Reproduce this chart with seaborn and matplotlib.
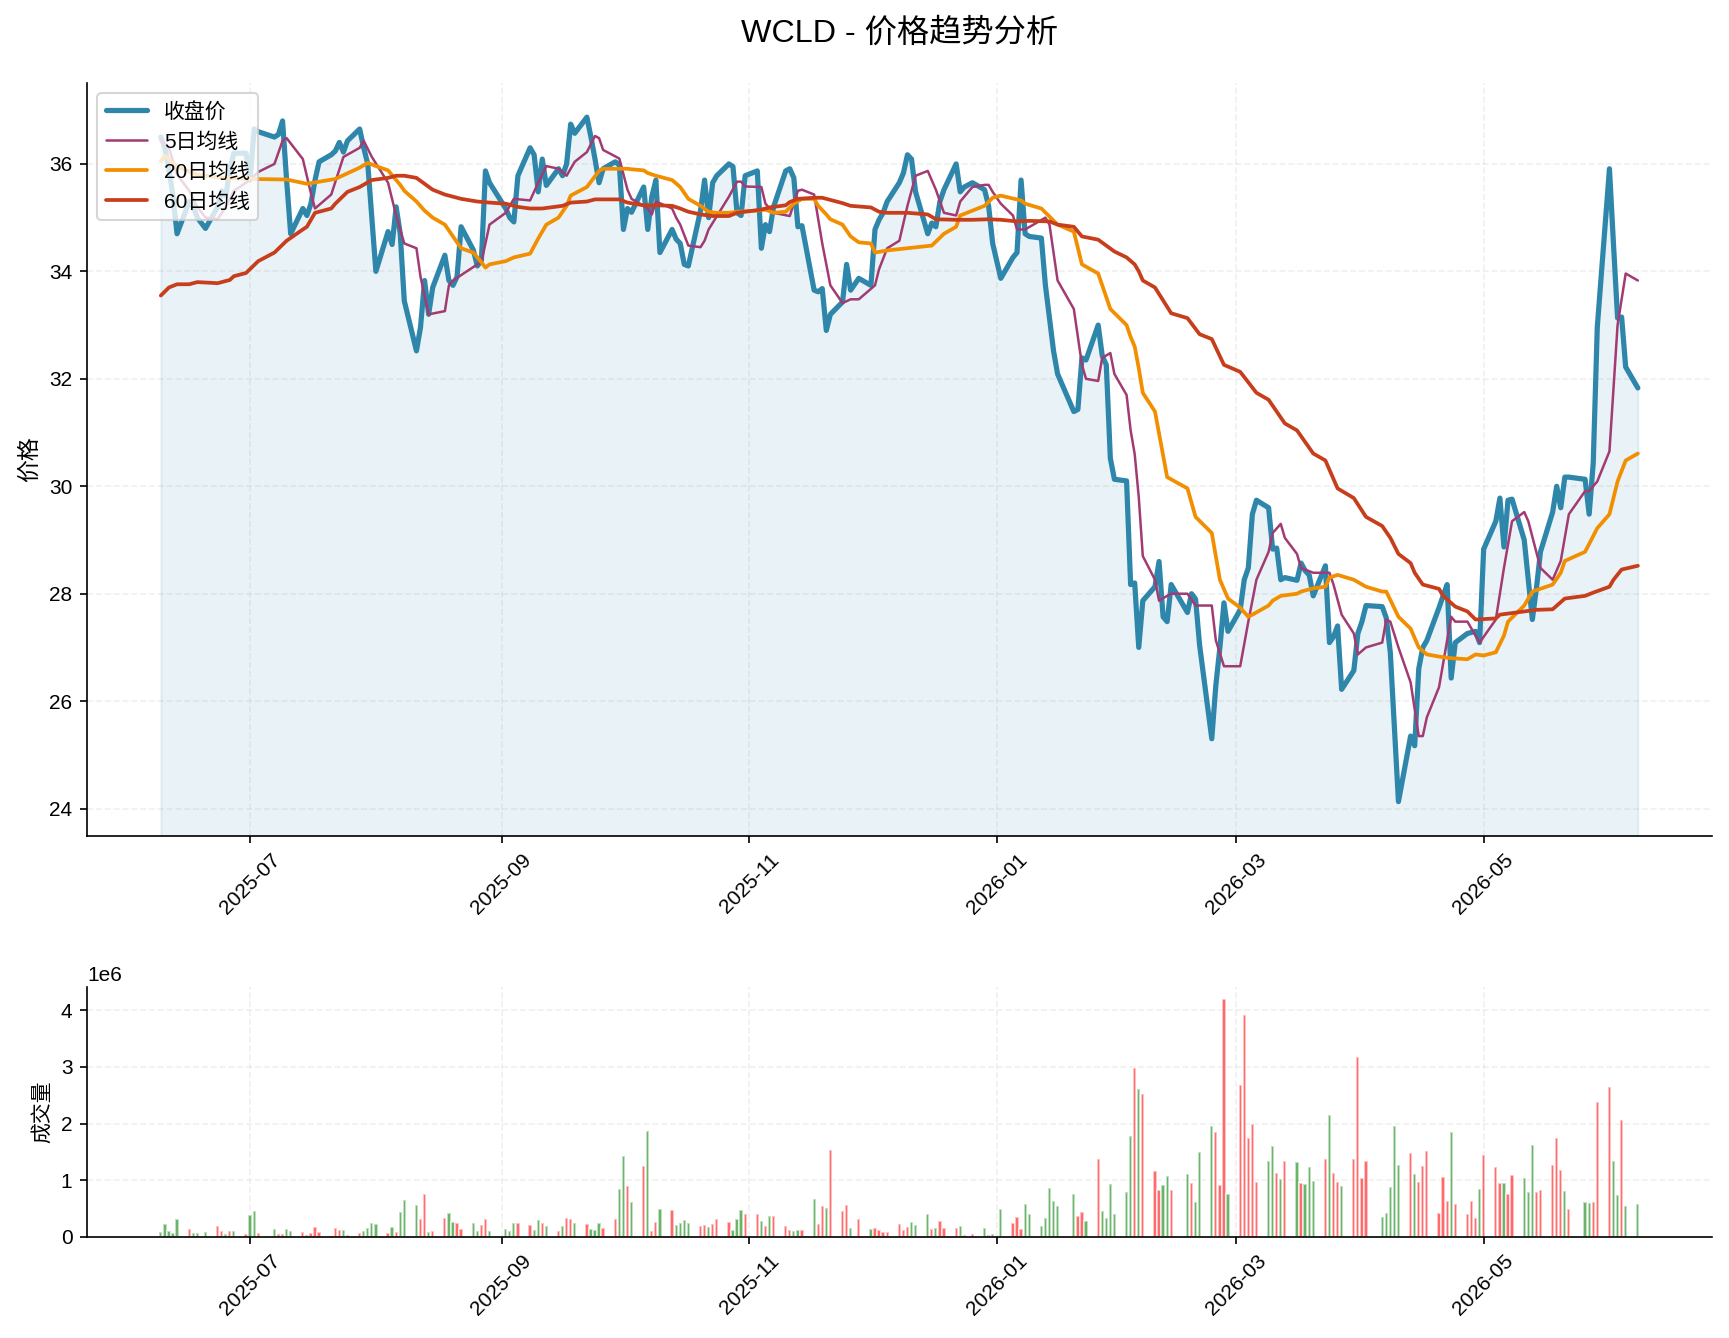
import numpy as np
import pandas as pd
import matplotlib
matplotlib.use("Agg")
import matplotlib.pyplot as plt
import matplotlib.dates as mdates
import seaborn as sns

# ---------------- data ----------------
start_date = "2025-06-09"
end_date = "2026-06-08"
holidays = ["2025-06-19", "2025-07-04", "2025-09-01", "2025-11-27", "2025-12-25",
            "2026-01-01", "2026-01-19", "2026-02-16", "2026-04-03", "2026-05-25"]

close = [
    36.5, 36.3, 35.9, 35.4, 34.7,
    35.3, 35.2, 35.0, 34.8,
    35.2, 35.5, 35.4, 35.9, 36.2,
    36.2, 35.7, 36.65, 36.6,
    36.5, 36.55, 36.8, 35.7, 34.7,
    35.17, 35.04, 35.26, 35.7, 36.04,
    36.17, 36.24, 36.4, 36.22, 36.43,
    36.65, 36.3, 36.0, 35.0, 34.0,
    34.74, 34.5, 35.2, 34.7, 33.45,
    32.52, 32.96, 33.83, 33.2, 33.7,
    34.3, 33.83, 33.74, 33.9, 34.83,
    34.4, 34.1, 34.2, 35.87, 35.65,
    35.17, 35.0, 34.92, 35.78,
    36.3, 36.17, 35.48, 36.09, 35.6,
    35.91, 35.78, 36.0, 36.74, 36.57,
    36.87, 36.5, 36.09, 35.65, 35.91,
    36.04, 35.98, 34.78, 35.17, 35.1,
    35.57, 34.78, 35.39, 35.7, 34.35,
    34.78, 34.6, 34.52, 34.13, 34.1,
    35.13, 35.7, 35.0, 35.65, 35.78,
    36.0, 35.95, 35.09, 35.04, 35.78,
    35.87, 34.43, 34.87, 34.74, 35.2,
    35.87, 35.91, 35.74, 34.83, 34.85,
    33.65, 33.62, 33.68, 32.9, 33.2,
    33.43, 34.13, 33.65, 33.87,
    33.74, 34.78, 34.96, 35.09, 35.3,
    35.65, 35.83, 36.17, 36.09, 35.48,
    34.7, 34.9, 34.83, 35.3, 35.52,
    36.0, 35.48, 35.57, 35.65,
    35.52, 35.22, 34.52, 33.87,
    34.26, 34.35, 35.7, 34.7, 34.65,
    34.62, 33.74, 33.13, 32.52, 32.09,
    31.39, 31.43, 32.39, 32.35,
    33.0, 32.43, 32.26, 30.52, 30.13,
    30.1, 28.17, 28.2, 27.0, 27.87,
    28.13, 28.6, 27.57, 27.48, 28.17,
    27.65, 28.0, 27.9, 27.04,
    25.3, 26.3, 27.0, 27.83, 27.3,
    27.7, 28.26, 28.48, 29.48, 29.74,
    29.6, 28.83, 28.85, 28.26, 28.3,
    28.25, 28.57, 28.43, 28.35, 27.96,
    28.52, 27.09, 27.2, 27.4, 26.22,
    26.57, 27.26, 27.48, 27.78,
    27.76, 27.55, 26.9, 25.5, 24.13,
    25.35, 25.17, 26.6, 27.0, 27.13,
    27.74, 27.96, 28.17, 26.43, 27.09,
    27.26, 27.28, 27.3, 27.09, 28.83,
    29.35, 29.78, 28.87, 29.74, 29.76,
    29.0, 28.26, 27.52, 28.1, 28.78,
    29.52, 30.0, 29.6, 30.17, 30.17,
    30.13, 29.48, 30.43, 32.96,
    35.91, 34.5, 33.13, 33.15, 32.22,
    31.83,
]

volume_m = [
    0.094, 0.234, 0.111, 0.076, 0.322,
    0.146, 0.076, 0.076, 0.094,
    0.199, 0.111, 0.058, 0.111, 0.111,
    0.058, 0.392, 0.462, 0.076,
    0.146, 0.058, 0.058, 0.146, 0.111,
    0.094, 0.041, 0.076, 0.181, 0.094,
    0.02, 0.164, 0.129, 0.129, 0.041,
    0.076, 0.111, 0.164, 0.251, 0.234,
    0.076, 0.181, 0.094, 0.444, 0.655,
    0.567, 0.322, 0.760, 0.094, 0.111,
    0.339, 0.427, 0.269, 0.251, 0.146,
    0.251, 0.111, 0.216, 0.322, 0.111,
    0.146, 0.111, 0.251, 0.251,
    0.216, 0.129, 0.304, 0.251, 0.199,
    0.111, 0.199, 0.339, 0.322, 0.251,
    0.234, 0.146, 0.129, 0.251, 0.164,
    0.322, 0.848, 1.427, 0.901, 0.620,
    1.251, 1.865, 0.111, 0.269, 0.497,
    0.480, 0.216, 0.251, 0.304, 0.251,
    0.199, 0.216, 0.181, 0.234, 0.322,
    0.269, 0.129, 0.322, 0.480, 0.409,
    0.409, 0.287, 0.199, 0.374, 0.374,
    0.199, 0.129, 0.111, 0.129, 0.129,
    0.673, 0.234, 0.550, 0.515, 1.532,
    0.462, 0.567, 0.164, 0.322,
    0.146, 0.164, 0.129, 0.094, 0.094,
    0.234, 0.129, 0.181, 0.269, 0.216,
    0.409, 0.146, 0.164, 0.287, 0.164,
    0.164, 0.199, 0.041, 0.058,
    0.164, 0.041, 0.058, 0.497,
    0.251, 0.357, 0.146, 0.585, 0.409,
    0.199, 0.339, 0.865, 0.637, 0.550,
    0.760, 0.374, 0.444, 0.287,
    1.374, 0.462, 0.339, 0.936, 0.409,
    0.795, 1.778, 2.988, 2.602, 2.515,
    1.164, 0.830, 0.918, 1.076, 0.830,
    1.111, 0.953, 0.620, 1.497,
    1.953, 1.848, 0.918, 4.199, 0.760,
    2.673, 3.918, 1.743, 1.988, 0.971,
    1.339, 1.602, 1.129, 1.023, 1.339,
    1.322, 0.953, 0.936, 1.234, 0.988,
    1.374, 2.146, 1.129, 0.971, 0.901,
    1.374, 3.181, 1.041, 1.339,
    0.357, 0.427, 0.883, 1.953, 1.269,
    1.480, 1.111, 0.971, 1.251, 1.515,
    0.427, 1.058, 0.637, 1.848, 0.585,
    0.409, 0.637, 0.339, 0.848, 1.444,
    1.234, 0.953, 0.953, 0.760, 1.094,
    1.041, 0.795, 1.620, 0.795, 0.830,
    1.269, 1.743, 1.181, 0.813, 0.497,
    0.620, 0.602, 0.620, 2.374,
    2.637, 1.339, 0.743, 2.058, 0.550,
    0.585,
]

# R = up day (red), G = down day (green)
day_color = ("GGGGG" "RGGG" "RRGRG" "RGGR" "GRRGG" "RGRRR" "RRRGR" "RGGGG" "RGRGG"
             "GRRGR" "RGGRR" "GGRRG" "GGGR" "RGGRG" "RGRRG" "RGGGR" "RGGRG" "RGRRG"
             "RGGGG" "RRGRR" "RGGGR" "RGRGR" "RRGGR" "GRRGR" "RRGR" "GRRRR" "RRRGG"
             "GRGRR" "RGRR" "GGGG" "RRRGG" "GGGGG" "GRRG" "RGGGG" "GGRGR" "RRGGR"
             "GRGG" "GRRRG" "RRRRR" "GGRGR" "GRGGG" "RGRRG" "RRRR" "GGGGG" "RGRRR"
             "RRRGR" "RRRGR" "RRGRR" "GGGRR" "RRRGR" "GGRR" "RGGRG" "G")

ma5_dates = ["2025-06-09", "2025-06-11", "2025-06-13", "2025-06-16", "2025-06-18", "2025-06-20",
             "2025-06-23", "2025-06-25", "2025-06-27", "2025-07-01", "2025-07-03", "2025-07-07",
             "2025-07-09", "2025-07-10", "2025-07-14", "2025-07-16", "2025-07-17", "2025-07-21",
             "2025-07-24", "2025-07-28", "2025-07-29", "2025-07-31", "2025-08-04", "2025-08-06",
             "2025-08-08", "2025-08-11", "2025-08-12", "2025-08-14", "2025-08-18", "2025-08-19",
             "2025-08-20", "2025-08-26", "2025-08-27", "2025-08-29", "2025-09-02", "2025-09-04",
             "2025-09-08", "2025-09-10", "2025-09-12", "2025-09-15", "2025-09-17", "2025-09-19",
             "2025-09-22", "2025-09-24", "2025-09-25", "2025-09-26", "2025-09-30", "2025-10-02",
             "2025-10-03", "2025-10-07", "2025-10-08", "2025-10-09", "2025-10-13", "2025-10-14",
             "2025-10-15", "2025-10-17", "2025-10-20", "2025-10-21", "2025-10-22", "2025-10-27",
             "2025-10-29", "2025-10-30", "2025-10-31", "2025-11-04", "2025-11-05", "2025-11-07",
             "2025-11-11", "2025-11-13", "2025-11-14", "2025-11-17", "2025-11-19", "2025-11-21",
             "2025-11-24", "2025-11-26", "2025-11-28", "2025-12-02", "2025-12-03", "2025-12-05",
             "2025-12-08", "2025-12-10", "2025-12-12", "2025-12-15", "2025-12-17", "2025-12-19",
             "2025-12-22", "2025-12-23", "2025-12-26", "2025-12-29", "2025-12-30", "2025-12-31",
             "2026-01-02", "2026-01-05", "2026-01-06", "2026-01-08", "2026-01-13", "2026-01-14",
             "2026-01-16", "2026-01-20", "2026-01-22", "2026-01-23", "2026-01-26", "2026-01-27",
             "2026-01-29", "2026-01-30", "2026-02-02", "2026-02-03", "2026-02-04", "2026-02-05",
             "2026-02-06", "2026-02-09", "2026-02-10", "2026-02-12", "2026-02-13", "2026-02-17",
             "2026-02-19", "2026-02-23", "2026-02-24", "2026-02-26", "2026-03-02", "2026-03-04",
             "2026-03-06", "2026-03-09", "2026-03-10", "2026-03-12", "2026-03-13", "2026-03-16",
             "2026-03-17", "2026-03-20", "2026-03-24", "2026-03-25", "2026-03-27", "2026-03-30",
             "2026-03-31", "2026-04-02", "2026-04-06", "2026-04-07", "2026-04-08", "2026-04-10",
             "2026-04-13", "2026-04-15", "2026-04-16", "2026-04-17", "2026-04-20", "2026-04-22",
             "2026-04-23", "2026-04-24", "2026-04-27", "2026-04-30", "2026-05-04", "2026-05-06",
             "2026-05-08", "2026-05-11", "2026-05-12", "2026-05-15", "2026-05-18", "2026-05-20",
             "2026-05-22", "2026-05-26", "2026-05-27", "2026-05-29", "2026-06-01", "2026-06-03",
             "2026-06-05", "2026-06-08"]
ma5_values = [36.45, 36.3, 35.8, 35.5, 35.2, 35.0,
              34.97, 35.2, 35.5, 35.7, 35.85, 36.0,
              36.43, 36.48, 36.09, 35.45, 35.17, 35.43,
              36.13, 36.3, 36.43, 36.13, 35.65, 35.04,
              34.52, 34.43, 33.9, 33.2, 33.26, 33.74,
              33.83, 34.13, 34.17, 34.87, 35.09, 35.35,
              35.32, 35.65, 35.96, 35.91, 35.78, 36.04,
              36.22, 36.52, 36.48, 36.26, 36.1, 35.52,
              35.35, 35.17, 35.06, 35.3, 35.17, 35.0,
              34.87, 34.48, 34.45, 34.57, 34.78, 35.39,
              35.67, 35.67, 35.58, 35.57, 35.26, 35.09,
              35.03, 35.5, 35.52, 35.43, 34.52, 33.74,
              33.41, 33.48, 33.48, 33.74, 34.04, 34.43,
              34.57, 35.22, 35.78, 35.87, 35.52, 35.09,
              35.04, 35.3, 35.57, 35.61, 35.61, 35.48,
              35.26, 35.04, 34.78, 34.78, 35.0, 34.87,
              33.83, 33.3, 32.26, 32.0, 31.96, 32.39,
              32.48, 32.09, 31.7, 31.04, 30.6, 29.8,
              28.7, 28.26, 27.87, 27.96, 28.0, 28.0,
              27.78, 27.78, 27.13, 26.65, 26.65, 27.48,
              28.26, 28.78, 29.13, 29.3, 29.04, 28.74,
              28.48, 28.39, 28.39, 28.17, 27.61, 27.26,
              26.87, 27.0, 27.09, 27.52, 27.48, 27.0,
              26.35, 25.35, 25.35, 25.7, 26.26, 27.13,
              27.57, 27.48, 27.48, 27.09, 27.52, 28.48,
              29.35, 29.52, 29.35, 28.48, 28.26, 28.61,
              29.48, 29.91, 29.91, 30.09, 30.65, 33.0,
              33.96, 33.83]

ma20_dates = ["2025-06-09", "2025-06-10", "2025-06-13", "2025-06-18", "2025-06-24", "2025-07-01",
              "2025-07-10", "2025-07-15", "2025-07-22", "2025-07-28", "2025-07-30", "2025-08-01",
              "2025-08-04", "2025-08-07", "2025-08-08", "2025-08-11", "2025-08-13", "2025-08-15",
              "2025-08-18", "2025-08-20", "2025-08-22", "2025-08-25", "2025-08-27", "2025-08-28",
              "2025-08-29", "2025-09-02", "2025-09-04", "2025-09-08", "2025-09-10", "2025-09-12",
              "2025-09-15", "2025-09-17", "2025-09-18", "2025-09-22", "2025-09-25", "2025-09-26",
              "2025-09-30", "2025-10-02", "2025-10-03", "2025-10-06", "2025-10-07", "2025-10-09",
              "2025-10-13", "2025-10-15", "2025-10-17", "2025-10-20", "2025-10-22", "2025-10-24",
              "2025-10-27", "2025-10-29", "2025-11-03", "2025-11-05", "2025-11-07", "2025-11-10",
              "2025-11-12", "2025-11-14", "2025-11-17", "2025-11-18", "2025-11-20", "2025-11-21",
              "2025-11-24", "2025-11-26", "2025-11-28", "2025-12-01", "2025-12-02", "2025-12-05",
              "2025-12-10", "2025-12-16", "2025-12-19", "2025-12-22", "2025-12-23", "2025-12-29",
              "2025-12-31", "2026-01-02", "2026-01-07", "2026-01-08", "2026-01-12", "2026-01-16",
              "2026-01-20", "2026-01-22", "2026-01-26", "2026-01-29", "2026-02-02", "2026-02-03",
              "2026-02-04", "2026-02-05", "2026-02-06", "2026-02-09", "2026-02-12", "2026-02-17",
              "2026-02-19", "2026-02-23", "2026-02-25", "2026-02-27", "2026-03-02", "2026-03-04",
              "2026-03-05", "2026-03-09", "2026-03-10", "2026-03-12", "2026-03-16", "2026-03-17",
              "2026-03-20", "2026-03-23", "2026-03-24", "2026-03-26", "2026-03-30", "2026-04-02",
              "2026-04-06", "2026-04-07", "2026-04-10", "2026-04-13", "2026-04-15", "2026-04-17",
              "2026-04-20", "2026-04-23", "2026-04-27", "2026-04-29", "2026-05-01", "2026-05-04",
              "2026-05-06", "2026-05-07", "2026-05-11", "2026-05-13", "2026-05-18", "2026-05-20",
              "2026-05-21", "2026-05-26", "2026-05-29", "2026-06-01", "2026-06-03", "2026-06-05",
              "2026-06-08"]
ma20_values = [36.05, 36.15, 35.95, 35.8, 35.74, 35.72,
               35.71, 35.63, 35.72, 35.93, 36.02, 35.96,
               35.88, 35.61, 35.5, 35.3, 35.13, 35.0,
               34.87, 34.65, 34.43, 34.35, 34.17, 34.07,
               34.13, 34.19, 34.26, 34.33, 34.61, 34.87,
               35.0, 35.22, 35.41, 35.57, 35.87, 35.91,
               35.91, 35.91, 35.9, 35.88, 35.83, 35.78,
               35.7, 35.57, 35.35, 35.22, 35.11, 35.09,
               35.09, 35.11, 35.13, 35.15, 35.09, 35.11,
               35.26, 35.35, 35.35, 35.22, 35.06, 34.97,
               34.87, 34.65, 34.54, 34.52, 34.35, 34.39,
               34.43, 34.48, 34.7, 34.83, 35.04, 35.22,
               35.37, 35.41, 35.32, 35.26, 35.17, 34.87,
               34.74, 34.13, 33.96, 33.3, 33.0, 32.78,
               32.6, 32.2, 31.74, 31.39, 30.17, 29.96,
               29.43, 29.13, 28.26, 27.91, 27.74, 27.57,
               27.61, 27.78, 27.87, 27.96, 28.0, 28.04,
               28.1, 28.13, 28.3, 28.35, 28.26, 28.13,
               28.04, 28.04, 27.57, 27.35, 27.0, 26.87,
               26.83, 26.8, 26.78, 26.87, 26.85, 26.91,
               27.22, 27.48, 27.78, 28.04, 28.17, 28.39,
               28.61, 28.78, 29.22, 29.48, 30.09, 30.48,
               30.61]

ma60_dates = ["2025-06-09", "2025-06-11", "2025-06-13", "2025-06-16", "2025-06-18", "2025-06-23",
              "2025-06-26", "2025-06-27", "2025-06-30", "2025-07-03", "2025-07-07", "2025-07-10",
              "2025-07-14", "2025-07-15", "2025-07-17", "2025-07-21", "2025-07-22", "2025-07-25",
              "2025-07-28", "2025-07-31", "2025-08-04", "2025-08-06", "2025-08-08", "2025-08-11",
              "2025-08-15", "2025-08-18", "2025-08-22", "2025-08-26", "2025-08-29", "2025-09-02",
              "2025-09-05", "2025-09-08", "2025-09-11", "2025-09-16", "2025-09-18", "2025-09-22",
              "2025-09-24", "2025-09-30", "2025-10-02", "2025-10-06", "2025-10-09", "2025-10-13",
              "2025-10-15", "2025-10-17", "2025-10-20", "2025-10-23", "2025-10-27", "2025-10-29",
              "2025-10-31", "2025-11-04", "2025-11-06", "2025-11-10", "2025-11-11", "2025-11-13",
              "2025-11-17", "2025-11-19", "2025-11-21", "2025-11-24", "2025-11-26", "2025-12-01",
              "2025-12-03", "2025-12-05", "2025-12-10", "2025-12-15", "2025-12-17", "2025-12-22",
              "2025-12-26", "2025-12-30", "2026-01-02", "2026-01-06", "2026-01-09", "2026-01-14",
              "2026-01-16", "2026-01-20", "2026-01-22", "2026-01-26", "2026-01-30", "2026-02-02",
              "2026-02-04", "2026-02-05", "2026-02-06", "2026-02-09", "2026-02-13", "2026-02-17",
              "2026-02-20", "2026-02-23", "2026-02-26", "2026-03-02", "2026-03-06", "2026-03-09",
              "2026-03-13", "2026-03-16", "2026-03-20", "2026-03-23", "2026-03-26", "2026-03-30",
              "2026-04-02", "2026-04-06", "2026-04-08", "2026-04-10", "2026-04-13", "2026-04-14",
              "2026-04-16", "2026-04-20", "2026-04-21", "2026-04-24", "2026-04-27", "2026-04-29",
              "2026-05-04", "2026-05-05", "2026-05-11", "2026-05-14", "2026-05-18", "2026-05-21",
              "2026-05-26", "2026-05-28", "2026-06-01", "2026-06-02", "2026-06-04", "2026-06-08"]
ma60_values = [33.55, 33.7, 33.76, 33.76, 33.8, 33.78,
               33.84, 33.91, 33.97, 34.19, 34.35, 34.57,
               34.78, 34.83, 35.09, 35.17, 35.26, 35.48,
               35.57, 35.7, 35.74, 35.78, 35.78, 35.74,
               35.52, 35.43, 35.35, 35.3, 35.28, 35.26,
               35.2, 35.17, 35.17, 35.22, 35.28, 35.3,
               35.34, 35.34, 35.28, 35.23, 35.23, 35.22,
               35.17, 35.11, 35.06, 35.03, 35.03, 35.09,
               35.11, 35.15, 35.19, 35.23, 35.29, 35.35,
               35.37, 35.37, 35.33, 35.27, 35.22, 35.19,
               35.11, 35.09, 35.09, 35.06, 34.97, 34.96,
               34.96, 34.97, 34.96, 34.93, 34.94, 34.93,
               34.87, 34.83, 34.65, 34.59, 34.37, 34.26,
               34.13, 34.0, 33.83, 33.7, 33.22, 33.13,
               32.83, 32.74, 32.26, 32.13, 31.74, 31.61,
               31.17, 31.04, 30.61, 30.48, 29.96, 29.78,
               29.43, 29.26, 29.04, 28.74, 28.57, 28.39,
               28.17, 28.09, 27.96, 27.76, 27.67, 27.52,
               27.54, 27.61, 27.67, 27.7, 27.71, 27.91,
               27.96, 28.02, 28.13, 28.26, 28.45, 28.52]

# ---------------- build frames ----------------
dates = pd.bdate_range(start_date, end_date)
dates = dates[~dates.isin(pd.to_datetime(holidays))]
assert len(dates) == len(close) == len(volume_m) == len(day_color)

df = pd.DataFrame({"date": dates, "close": close,
                   "volume": np.array(volume_m) * 1e6,
                   "dir": list(day_color)})
ma5 = pd.DataFrame({"date": pd.to_datetime(ma5_dates), "v": ma5_values})
ma20 = pd.DataFrame({"date": pd.to_datetime(ma20_dates), "v": ma20_values})
ma60 = pd.DataFrame({"date": pd.to_datetime(ma60_dates), "v": ma60_values})

# ---------------- style ----------------
sns.set_style("ticks")
plt.rcParams["font.family"] = ["Liberation Sans", "Noto Sans CJK SC", "DejaVu Sans"]
plt.rcParams["axes.unicode_minus"] = False
for k in ("text.color", "axes.labelcolor", "xtick.color", "ytick.color", "axes.edgecolor"):
    plt.rcParams[k] = "black"

W, H, DPI = 1729, 1338, 150
fig = plt.figure(figsize=(W / DPI, H / DPI), dpi=DPI)
ax1 = fig.add_axes([0.0503, 0.3753, 0.9397, 0.5627])
ax2 = fig.add_axes([0.0503, 0.0755, 0.9397, 0.1868])

c_close, c_ma5, c_ma20, c_ma60 = "#2E86AB", "#A23B72", "#F18F01", "#C73E1D"

sns.lineplot(data=df, x="date", y="close", ax=ax1, color=c_close, linewidth=2.5, label="收盘价")
sns.lineplot(data=ma5, x="date", y="v", ax=ax1, color=c_ma5, linewidth=1.2, label="5日均线")
sns.lineplot(data=ma20, x="date", y="v", ax=ax1, color=c_ma20, linewidth=1.8, label="20日均线")
sns.lineplot(data=ma60, x="date", y="v", ax=ax1, color=c_ma60, linewidth=1.8, label="60日均线")
ylo, yhi = ax1.get_ylim()
ax1.fill_between(df["date"], df["close"], ylo, color=c_close, alpha=0.1)
ax1.set_ylim(ylo, yhi)

ax1.set_title("WCLD - 价格趋势分析", fontsize=15.5, pad=20)
ax1.set_xlabel("")
ax1.set_ylabel("价格", fontsize=11)
ax1.legend(loc="upper left", fontsize=10)
ax1.grid(True, linestyle="--", alpha=0.3)

bar_colors = ["red" if d == "R" else "green" for d in df["dir"]]
ax2.bar(df["date"], df["volume"], color=bar_colors, alpha=0.6, width=0.8)
ax2.set_ylabel("成交量", fontsize=10)
ax2.set_xlabel("")
ax2.grid(True, linestyle="--", alpha=0.3)
ax2.set_xlim(ax1.get_xlim())

for ax in (ax1, ax2):
    ax.xaxis.set_major_locator(mdates.MonthLocator(bymonth=[1, 3, 5, 7, 9, 11]))
    ax.xaxis.set_major_formatter(mdates.DateFormatter("%Y-%m"))
    plt.setp(ax.get_xticklabels(), rotation=45)
    sns.despine(ax=ax)

fig.savefig("out.png", dpi=DPI)
